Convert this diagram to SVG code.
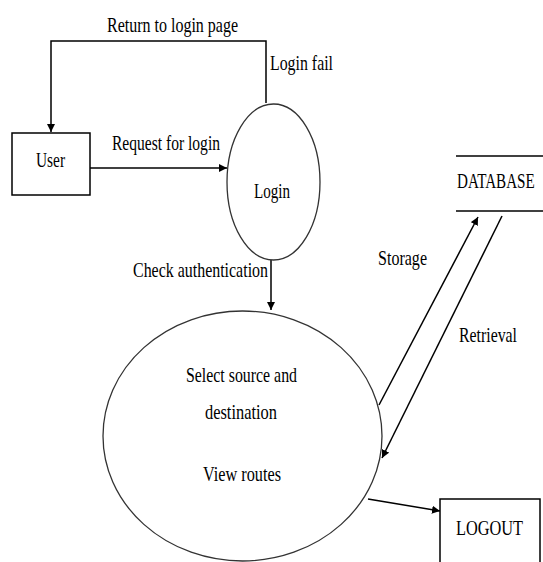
<svg xmlns="http://www.w3.org/2000/svg" width="543" height="562" viewBox="0 0 543 562">
<style>
text{font-family:"Liberation Serif","Times New Roman",serif;font-size:21px;fill:#000}
.ln{fill:none;stroke:#000;stroke-width:1.5}
.bx{fill:#fff;stroke:#000;stroke-width:1.5}
.el{fill:#fff;stroke:#333;stroke-width:1.3}
</style>
<defs>
<marker id="ar" viewBox="0 0 10 10" refX="10" refY="5" markerWidth="8" markerHeight="8" markerUnits="userSpaceOnUse" orient="auto">
<path d="M0,0 L10,5 L0,10 z" fill="#000"/>
</marker>
</defs>
<rect width="543" height="562" fill="#fff"/>
<g id="connectors">
<polyline class="ln" points="266,103 266,41 51,41 51,132" marker-end="url(#ar)"/>
<line class="ln" x1="90" y1="168" x2="227" y2="168" marker-end="url(#ar)"/>
<line class="ln" x1="271" y1="260" x2="271" y2="310" marker-end="url(#ar)"/>
<line class="ln" x1="379" y1="405" x2="478" y2="217" stroke-width="1.2" marker-end="url(#ar)"/>
<line class="ln" x1="502" y1="216" x2="382" y2="458" stroke-width="1.2" marker-end="url(#ar)"/>
<line class="ln" x1="368" y1="499" x2="440" y2="511" marker-end="url(#ar)"/>
<text x="107" y="32" textLength="131" lengthAdjust="spacingAndGlyphs">Return to login page</text>
<text x="270" y="70" textLength="63" lengthAdjust="spacingAndGlyphs">Login fail</text>
<text x="112" y="150" textLength="108" lengthAdjust="spacingAndGlyphs">Request for login</text>
<text x="133" y="277" textLength="135" lengthAdjust="spacingAndGlyphs">Check authentication</text>
<text x="378" y="265" textLength="49" lengthAdjust="spacingAndGlyphs">Storage</text>
<text x="459" y="342" textLength="58" lengthAdjust="spacingAndGlyphs">Retrieval</text>
</g>
<g id="user">
<rect class="bx" x="12" y="133" width="78" height="62"/>
<text x="36" y="167" textLength="29" lengthAdjust="spacingAndGlyphs">User</text>
</g>
<g id="login">
<ellipse class="el" cx="273.5" cy="182" rx="46.5" ry="78"/>
<text x="254" y="198" textLength="36" lengthAdjust="spacingAndGlyphs">Login</text>
</g>
<g id="select">
<ellipse class="el" cx="242.5" cy="436" rx="139.5" ry="125"/>
<text x="186" y="382" textLength="111" lengthAdjust="spacingAndGlyphs">Select source and</text>
<text x="205" y="419" textLength="72" lengthAdjust="spacingAndGlyphs">destination</text>
<text x="203" y="481" textLength="78" lengthAdjust="spacingAndGlyphs">View routes</text>
</g>
<g id="database">
<line class="ln" x1="456" y1="156" x2="543" y2="156"/>
<line class="ln" x1="456" y1="211" x2="543" y2="211"/>
<text transform="translate(457,188) scale(0.72,1)" x="0" y="0">DATABASE</text>
</g>
<g id="logout">
<rect class="bx" x="440" y="499" width="100" height="70"/>
<text x="456" y="535" textLength="67" lengthAdjust="spacingAndGlyphs">LOGOUT</text>
</g>
</svg>
